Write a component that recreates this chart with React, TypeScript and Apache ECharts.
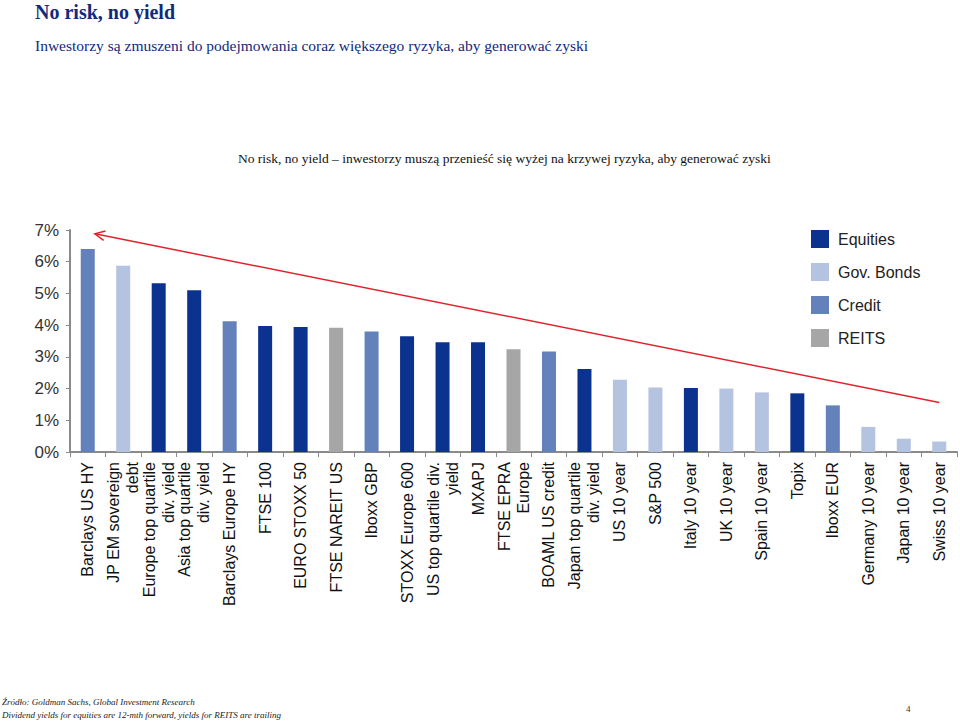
import React, { useEffect, useRef } from "react";
import * as echarts from "echarts";

const categories = [
  "Barclays US HY",
  "JP EM sovereign\ndebt",
  "Europe top quartile\ndiv. yield",
  "Asia top quartile\ndiv. yield",
  "Barclays Europe HY",
  "FTSE 100",
  "EURO STOXX 50",
  "FTSE NAREIT US",
  "Iboxx GBP",
  "STOXX Europe 600",
  "US top quartile div.\nyield",
  "MXAPJ",
  "FTSE EPRA\nEurope",
  "BOAML US credit",
  "Japan top quartile\ndiv. yield",
  "US 10 year",
  "S&P 500",
  "Italy 10 year",
  "UK 10 year",
  "Spain 10 year",
  "Topix",
  "Iboxx EUR",
  "Germany 10 year",
  "Japan 10 year",
  "Swiss 10 year",
];

const yields = [
  6.4, 5.87, 5.32, 5.1, 4.12, 3.97, 3.94, 3.92, 3.8, 3.65, 3.46, 3.46, 3.24,
  3.17, 2.62, 2.28, 2.03, 2.02, 2.0, 1.88, 1.85, 1.47, 0.79, 0.42, 0.33,
];

const assetClass = [
  "Credit", "Gov. Bonds", "Equities", "Equities", "Credit", "Equities",
  "Equities", "REITS", "Credit", "Equities", "Equities", "Equities", "REITS",
  "Credit", "Equities", "Gov. Bonds", "Gov. Bonds", "Equities", "Gov. Bonds",
  "Gov. Bonds", "Equities", "Credit", "Gov. Bonds", "Gov. Bonds", "Gov. Bonds",
];

const classNames = ["Equities", "Gov. Bonds", "Credit", "REITS"];
const classColors = ["#0C3290", "#B4C3DF", "#6382BB", "#A6A6A6"];

const yTicks = { min: 0, max: 7, interval: 1 };

// arrow in data space: [category position, value %]
const arrowTip = [0.2, 6.88];
const arrowTail = [24, 1.56];

export default function App() {
  const ref = useRef<HTMLDivElement>(null);

  useEffect(() => {
    if (!ref.current) return;
    const chart = echarts.init(ref.current, null, { renderer: "svg" });

    const series = classNames.map((name, ci) => ({
      name,
      type: "bar",
      stack: "all",
      barWidth: 14,
      itemStyle: { color: classColors[ci] },
      data: yields.map((v, i) => (assetClass[i] === name ? v : "-")),
    }));

    const serif = "'Liberation Serif', 'DejaVu Serif', serif";
    const sans = "'Liberation Sans', Arial, sans-serif";

    const option: any = {
      animation: false,
      backgroundColor: "#ffffff",
      grid: { left: 70, top: 230, width: 887, height: 222, containLabel: false },
      legend: {
        orient: "vertical",
        left: 806,
        top: 225,
        icon: "rect",
        itemWidth: 18,
        itemHeight: 18,
        itemGap: 15,
        textStyle: { fontFamily: sans, fontSize: 16, color: "#222", padding: [0, 0, 0, 4] },
        data: classNames,
      },
      xAxis: {
        type: "category",
        data: categories,
        axisLine: { lineStyle: { color: "#8a8a8a", width: 2 } },
        axisTick: { show: true, interval: 0, length: 5, lineStyle: { color: "#8a8a8a", width: 1 } },
        axisLabel: {
          interval: 0,
          rotate: 90,
          margin: 10,
          fontFamily: sans,
          fontSize: 16,
          lineHeight: 19,
          color: "#111",
        },
      },
      yAxis: {
        type: "value",
        min: yTicks.min,
        max: yTicks.max,
        interval: yTicks.interval,
        splitLine: { show: false },
        axisLine: { show: true, lineStyle: { color: "#8a8a8a", width: 2 } },
        axisTick: { show: true, length: 4, lineStyle: { color: "#8a8a8a" } },
        axisLabel: {
          formatter: "{value}%",
          fontFamily: sans,
          fontSize: 17,
          color: "#333",
          margin: 11,
        },
      },
      series,
      graphic: [
        {
          type: "text",
          left: 35,
          top: 2,
          style: { text: "No risk, no yield", fontFamily: serif, fontSize: 20, fontWeight: "bold", fill: "#102A7C" },
        },
        {
          type: "text",
          left: 35,
          top: 37,
          style: {
            text: "Inwestorzy są zmuszeni do podejmowania coraz większego ryzyka, aby generować zyski",
            fontFamily: serif,
            fontSize: 15.5,
            fill: "#102A7C",
          },
        },
        {
          type: "text",
          left: 238,
          top: 151,
          style: {
            text: "No risk, no yield – inwestorzy muszą przenieść się wyżej na krzywej ryzyka, aby generować zyski",
            fontFamily: serif,
            fontSize: 13.5,
            fill: "#111",
          },
        },
        {
          type: "text",
          left: 2,
          top: 697,
          style: {
            text: "Źródło: Goldman Sachs, Global Investment Research",
            fontFamily: serif,
            fontStyle: "italic",
            fontSize: 9,
            fill: "#222",
          },
        },
        {
          type: "text",
          left: 2,
          top: 710,
          style: {
            text: "Dividend yields for equities are 12-mth forward, yields for REITS are trailing",
            fontFamily: serif,
            fontStyle: "italic",
            fontSize: 9,
            fill: "#222",
          },
        },
        {
          type: "text",
          left: 906,
          top: 704,
          style: { text: "4", fontFamily: serif, fontSize: 9, fill: "#333" },
        },
      ],
    };

    chart.setOption(option);

    // arrow drawn from data coordinates
    const toPx = (pt: number[]) => {
      const i0 = Math.floor(pt[0]);
      const a = chart.convertToPixel({ xAxisIndex: 0, yAxisIndex: 0 }, [i0, pt[1]]) as number[];
      const b = chart.convertToPixel({ xAxisIndex: 0, yAxisIndex: 0 }, [i0 + 1, pt[1]]) as number[];
      const f = pt[0] - i0;
      return [a[0] + (b[0] - a[0]) * f, a[1]];
    };
    const tip = toPx(arrowTip);
    const tail = toPx(arrowTail);
    const ang = Math.atan2(tail[1] - tip[1], tail[0] - tip[0]);
    const len = 11;
    const spread = 0.45;
    const arm1 = [tip[0] + len * Math.cos(ang - spread), tip[1] + len * Math.sin(ang - spread)];
    const arm2 = [tip[0] + len * Math.cos(ang + spread), tip[1] + len * Math.sin(ang + spread)];
    const red = "#E0242C";
    chart.setOption({
      graphic: [
        ...option.graphic,
        {
          type: "line",
          shape: { x1: tail[0], y1: tail[1], x2: tip[0], y2: tip[1] },
          style: { stroke: red, lineWidth: 1.5 },
          z: 10,
        },
        {
          type: "polyline",
          shape: { points: [arm1, tip, arm2] },
          style: { stroke: red, lineWidth: 1.5, fill: null },
          z: 10,
        },
      ],
    });

    return () => chart.dispose();
  }, []);

  return (
    <div
      ref={ref}
      style={{ position: "absolute", left: 0, top: 0, width: 960, height: 721 }}
    />
  );
}
